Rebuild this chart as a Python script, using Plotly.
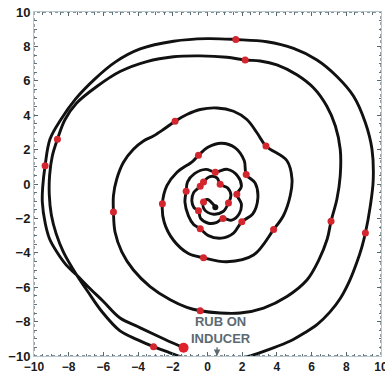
import plotly.graph_objects as go

# Orbit path (x, y in mils), in order of time
path_x = [0.45, 0.3, 0.0, -0.23, -0.2, 0.3, 0.9, 1.21, 1.35, 1.15, 0.73, 0.55, 0.1, -0.23, -0.42,
          -0.8, -0.9, -0.78, -0.52, -0.4, 0.05, 0.5, 0.89, 1.4, 1.82, 1.95, 1.69, 1.95, 1.75, 1.15,
          0.45, -0.1, -0.75, -1.15, -1.23, -1.3, -1.1, -0.8, -0.42, 0.05, 0.8, 1.5, 1.98, 2.6, 2.9,
          2.75, 2.23, 2.12, 1.6, 0.8, 0.05, -0.52, -0.85, -1.77, -2.34, -2.6, -2.5, -1.96, -1.1, -0.23,
          1.12, 2.65, 3.81, 4.38, 4.77, 4.87, 4.58, 3.37, 2.85, 2.27, 1.5, 0.54, -0.42, -1.19, -1.87,
          -2.54, -3.12, -3.69, -4.27, -4.85, -5.23, -5.42, -5.42, -5.33, -4.94, -4.27, -3.31, -2.15, -1.19, -0.42,
          0.73, 1.88, 3.23, 4.58, 5.73, 6.4, 6.9, 7.12, 7.46, 7.65, 7.65, 7.37, 6.88, 6.12, 5.15,
          4.0, 3.04, 2.17, 1.12, -0.42, -1.96, -3.5, -5.04, -6.38, -7.54, -8.21, -8.65, -8.95, -9.1, -9.12,
          -9.0, -8.72, -8.31, -7.54, -6.9, -6.1, -5.04, -4.05, -3.11, -2.2, -1.2, 0.0, 1.25, 2.46, 3.6,
          4.77, 5.6, 6.31, 7.05, 7.66, 8.2, 8.62, 8.9, 9.1, 9.38, 9.55, 9.48, 9.1, 8.42, 7.46,
          6.31, 4.96, 3.42, 1.63, -0.04, -1.96, -3.88, -5.3, -6.5, -7.6, -8.45, -9.08, -9.36, -9.5, -9.52,
          -9.35, -9.1, -8.69, -8.15, -7.54, -6.75, -6.0, -5.04, -4.0, -3.0, -2.1, -1.38]
path_y = [-1.35, -1.15, -0.9, -1.04, -1.45, -1.75, -1.6, -1.1, -0.65, -0.22, -0.02, 0.35, 0.42, 0.12, -0.13,
          -0.5, -1.0, -1.38, -1.56, -2.0, -2.28, -2.25, -2.0, -2.1, -1.75, -1.15, -0.6, -0.15, 0.45, 0.85,
          0.69, 0.85, 0.6, 0.12, -0.42, -1.05, -1.85, -2.35, -2.6, -3.0, -3.15, -2.85, -2.19, -1.75, -0.85,
          0.05, 0.55, 1.35, 2.1, 2.37, 2.15, 1.67, 1.32, 0.67, -0.1, -1.15, -2.21, -3.27, -4.04, -4.29,
          -4.52, -4.13, -2.65, -1.83, -0.67, 0.29, 1.35, 2.21, 2.98, 3.75, 4.23, 4.42, 4.33, 4.04, 3.65,
          3.17, 2.79, 2.5, 2.02, 1.25, 0.29, -0.67, -1.63, -2.79, -3.94, -5.0, -5.96, -6.73, -7.17, -7.37,
          -7.5, -7.5, -7.21, -6.54, -5.58, -4.45, -3.2, -2.17, -0.87, 0.48, 2.02, 3.37, 4.52, 5.58, 6.35,
          6.92, 7.15, 7.21, 7.37, 7.45, 7.4, 7.12, 6.54, 5.67, 4.71, 3.75, 2.6, 1.6, 0.5, -0.6,
          -1.8, -2.9, -3.94, -5.29, -6.25, -7.4, -8.54, -9.05, -9.46, -9.8, -10.15, -10.4, -10.35, -10.0, -9.6,
          -9.13, -8.65, -8.18, -7.45, -6.64, -5.6, -4.52, -3.65, -2.85, -1.3, 0.2, 2.02, 3.56, 5.1, 6.25,
          7.21, 7.88, 8.27, 8.4, 8.45, 8.3, 7.85, 7.1, 6.1, 4.95, 3.75, 2.6, 1.06, -0.2, -1.06,
          -2.3, -3.2, -3.94, -4.7, -5.29, -6.1, -6.83, -7.79, -8.3, -8.78, -9.2, -9.52]

# Once-per-revolution (keyphasor) marks
dot_x = [-0.23, 1.21, 0.73, -0.23, -0.42, -0.52, 0.89, 1.69, 0.45, -1.23, -0.42, 1.98, 2.23, -0.52,
         -2.6, -0.23, 3.81, 3.37, -1.87, -5.42, -0.42, 7.12, 2.17, -8.65, -3.11, 9.1, 1.63, -9.36]
dot_y = [-1.04, -1.1, -0.02, 0.12, -0.13, -1.56, -2.0, -0.6, 0.69, -0.42, -2.6, -2.19, 0.55, 1.67,
         -1.15, -4.29, -2.65, 2.21, 3.65, -1.63, -7.37, -2.17, 7.21, 2.6, -9.46, -2.85, 8.4, 1.06]
start_pt = [0.45, -1.35]
end_pt = [-1.38, -9.52]

tick_vals = [-10, -8, -6, -4, -2, 0, 2, 4, 6, 8, 10]
note_text = "RUB ON<br>INDUCER"
note_pos = [0.75, -8.5]
arrow_from = [0.55, -9.4]
arrow_to = [0.55, -10.0]

fig = go.Figure()
fig.add_trace(go.Scatter(x=path_x, y=path_y, mode="lines",
                         line=dict(color="#111111", width=2.9, shape="spline", smoothing=1.0),
                         hoverinfo="skip"))
fig.add_trace(go.Scatter(x=dot_x, y=dot_y, mode="markers",
                         marker=dict(color="#d3262e", size=7, line=dict(width=0))))
fig.add_trace(go.Scatter(x=[start_pt[0]], y=[start_pt[1]], mode="markers",
                         marker=dict(color="#111111", size=6)))
fig.add_trace(go.Scatter(x=[end_pt[0]], y=[end_pt[1]], mode="markers",
                         marker=dict(color="#e0202a", size=10)))

axis_common = dict(range=[-10, 10], tickvals=tick_vals, showgrid=False, zeroline=False,
                   showline=True, linecolor="#b9c6cb", linewidth=1, mirror="ticks",
                   ticks="inside", ticklen=4, tickcolor="#55666d", tickwidth=1,
                   ticklabeloverflow="allow", automargin=False,
                   minor=dict(dtick=0.5, ticks="inside", ticklen=2.5, tickcolor="#5f7178"))
fig.update_xaxes(**axis_common, ticklabelstandoff=0,
                 tickfont=dict(family="Liberation Sans, Arial, sans-serif", size=12,
                               color="#1b1b1b", weight="bold"))
fig.update_yaxes(**axis_common,
                 tickfont=dict(family="Liberation Sans, Arial, sans-serif", size=13,
                               color="#1b1b1b", weight="bold"))

# dotted frame like the scanned original
fig.add_shape(type="rect", xref="x", yref="y", x0=tick_vals[0], x1=tick_vals[-1],
              y0=tick_vals[0], y1=tick_vals[-1],
              line=dict(color="#5f7178", width=1.3, dash="dot"), layer="above")

fig.add_annotation(x=note_pos[0], y=note_pos[1], xref="x", yref="y", text=note_text,
                   showarrow=False, align="center",
                   font=dict(family="Liberation Sans, Arial, sans-serif", size=13,
                             color="#5b6a72", weight="bold"))
fig.add_annotation(x=arrow_to[0], y=arrow_to[1], ax=arrow_from[0], ay=arrow_from[1],
                   xref="x", yref="y", axref="x", ayref="y", text="", showarrow=True,
                   arrowhead=2, arrowsize=1, arrowwidth=1.3, arrowcolor="#5b6a72")

fig.update_layout(width=385, height=375, margin=dict(l=34, r=4, t=12, b=19, autoexpand=False),
                  paper_bgcolor="white", plot_bgcolor="white", showlegend=False)

fig.write_html("out.html")
